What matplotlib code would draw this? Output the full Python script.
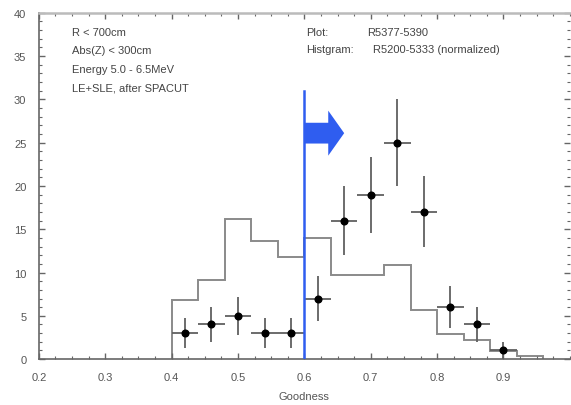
import matplotlib
matplotlib.use('Agg')
import matplotlib.pyplot as plt
import numpy as np
from matplotlib.ticker import MultipleLocator

plt.rc('font', family='Liberation Sans', size=7.5)

# normalized reference histogram (R5200-5333)
bin_edges = [0.40, 0.44, 0.48, 0.52, 0.56, 0.60, 0.64, 0.68, 0.72, 0.76, 0.80, 0.84, 0.88, 0.92, 0.96]
hist_vals = [6.8, 9.1, 16.2, 13.6, 11.8, 14.0, 9.7, 9.7, 10.9, 5.7, 2.9, 2.2, 0.9, 0.4]

# data points (R5377-5390)
goodness = [0.42, 0.46, 0.50, 0.54, 0.58, 0.62, 0.66, 0.70, 0.74, 0.78, 0.82, 0.86, 0.90]
counts = [3, 4, 5, 3, 3, 7, 16, 19, 25, 17, 6, 4, 1]
count_err = [1.7, 2.0, 2.2, 1.7, 1.7, 2.6, 4.0, 4.4, 5.0, 4.1, 2.4, 2.0, 1.0]
bin_half = 0.02

cut_value = 0.6

fig = plt.figure(figsize=(5.71, 4.06), dpi=100)
ax = fig.add_axes([0.068, 0.113, 0.93, 0.853])

# histogram as step line
ax.stairs(hist_vals, bin_edges, color='#8a8a8a', linewidth=1.4)

# data with error bars
ax.errorbar(goodness, counts, yerr=count_err, xerr=bin_half, fmt='o',
            color='black', markersize=4.8, ecolor='#606060', elinewidth=1.3,
            capsize=0, zorder=3)

# cut line and arrow
ax.plot([cut_value, cut_value], [0, 31], color='#2f5df0', linewidth=1.8, zorder=4)
ax.fill([0.60, 0.636, 0.636, 0.66, 0.636, 0.636, 0.60],
        [27.3, 27.3, 28.7, 26.1, 23.5, 24.9, 24.9],
        color='#2f5df0', linewidth=0, zorder=4)

ax.set_xlim(0.2, 1.0)
ax.set_ylim(0, 40)
ax.xaxis.set_minor_locator(MultipleLocator(0.025))
ax.yaxis.set_major_locator(MultipleLocator(5))
ax.yaxis.set_minor_locator(MultipleLocator(1))
ax.set_xticks(np.arange(0.2, 0.95, 0.1))
ax.set_xticklabels(['0.2', '0.3', '0.4', '0.5', '0.6', '0.7', '0.8', '0.9'])
ax.tick_params(which='both', direction='in', top=True, right=True,
               colors='#666666', labelcolor='#555555', labelsize=8)
ax.tick_params(which='major', length=4, width=1)
ax.tick_params(which='minor', length=2, width=0.8)
ax.tick_params(axis='x', pad=9)
ax.tick_params(axis='y', pad=9)

for side in ['left', 'bottom']:
    ax.spines[side].set_color('#666666')
    ax.spines[side].set_linewidth(1.2)
ax.spines['top'].set_color('#bbbbbb')
ax.spines['top'].set_linewidth(1.8)
ax.spines['right'].set_visible(False)

ax.set_xlabel('Goodness', color='#555555', fontsize=8, labelpad=7)

text_kw = dict(transform=ax.transData, fontsize=8, color='#444444', va='center')
cuts = ['R < 700cm', 'Abs(Z) < 300cm', 'Energy 5.0 - 6.5MeV', 'LE+SLE, after SPACUT']
for i, line in enumerate(cuts):
    ax.text(0.250, 37.8 - i * 2.15, line, **text_kw)

ax.text(0.602, 37.8, 'Plot:', **text_kw)
ax.text(0.694, 37.8, 'R5377-5390', **text_kw)
ax.text(0.602, 35.8, 'Histgram:', **text_kw)
ax.text(0.703, 35.8, 'R5200-5333 (normalized)', **text_kw)

fig.savefig('out.png', dpi=100)
